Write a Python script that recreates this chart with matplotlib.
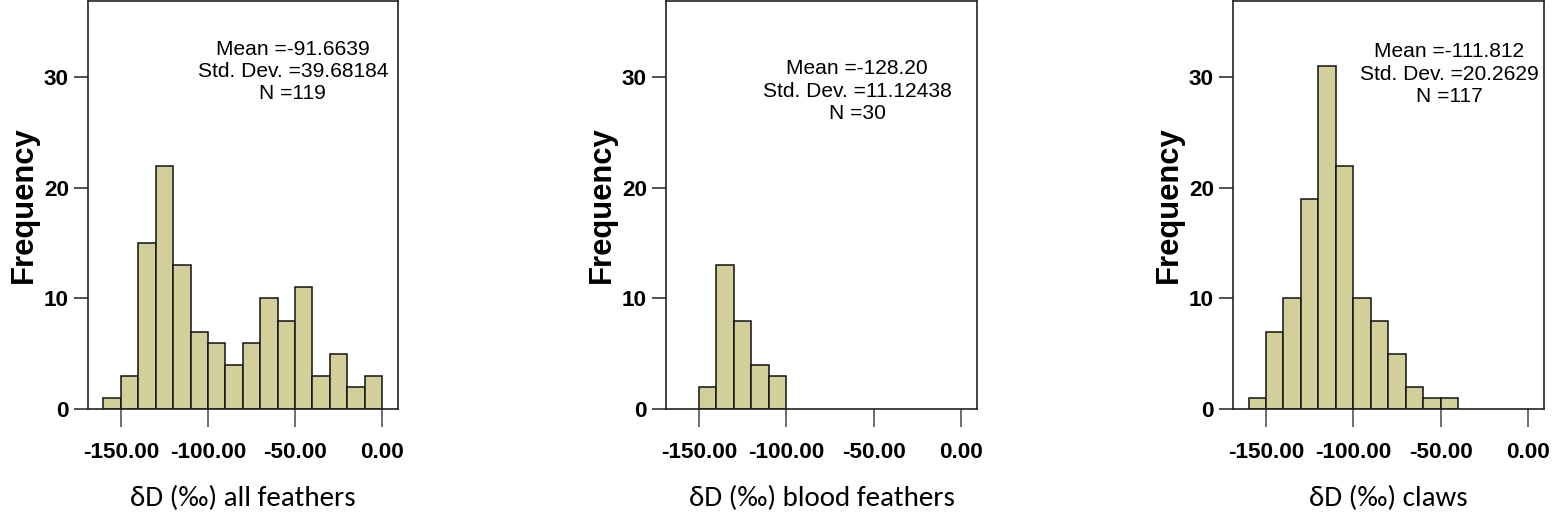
import matplotlib
matplotlib.use("Agg")
import matplotlib.pyplot as plt

# ---- data ----
bin_width = 10
bins_all = [-160, -150, -140, -130, -120, -110, -100, -90, -80, -70, -60, -50, -40, -30, -20, -10]
counts_all = [1, 3, 15, 22, 13, 7, 6, 4, 6, 10, 8, 11, 3, 5, 2, 3]

bins_blood = [-150, -140, -130, -120, -110]
counts_blood = [2, 13, 8, 4, 3]

bins_claws = [-160, -150, -140, -130, -120, -110, -100, -90, -80, -70, -60, -50]
counts_claws = [1, 7, 10, 19, 31, 22, 10, 8, 5, 2, 1, 1]

xticks = [-150, -100, -50, 0]
xtick_labels = ["-150.00", "-100.00", "-50.00", "0.00"]
yticks = [0, 10, 20, 30]
ytick_labels = ["0", "10", "20", "30"]

xlabels = ["\u03b4D (\u2030) all feathers", "\u03b4D (\u2030) blood feathers", "\u03b4D (\u2030) claws"]
stats = ["Mean =-91.6639\nStd. Dev. =39.68184\nN =119",
         "Mean =-128.20\nStd. Dev. =11.12438\nN =30",
         "Mean =-111.812\nStd. Dev. =20.2629\nN =117"]

# ---- layout ----
W, H = 1556, 521
fig = plt.figure(figsize=(W / 100, H / 100), dpi=100)

def px(v):
    return v * 72 / 100.0

arial = ["Liberation Sans", "DejaVu Sans"]
label_font = ["Carlito", "Lato", "DejaVu Sans"]
bar_color = "#D3CF9A"

panels = [
    (88, 398, bins_all, counts_all, (0.661, 0.827)),
    (666, 977, bins_blood, counts_blood, (0.615, 0.779)),
    (1233, 1544, bins_claws, counts_claws, (0.695, 0.821)),
]
top_px, bottom_px = 1, 409

for i, (l, r, b, c, spos) in enumerate(panels):
    ax = fig.add_axes([l / W, 1 - bottom_px / H, (r - l) / W, (bottom_px - top_px) / H])
    ax.bar(b, c, width=bin_width, align="edge", color=bar_color,
           edgecolor="#111111", linewidth=1.1, zorder=2)
    ax.set_xlim(-168.9, 9.2)
    ax.set_ylim(0, 36.9)
    for s in ax.spines.values():
        s.set_color("#222222")
        s.set_linewidth(1.2)
    ax.set_xticks(xticks)
    ax.set_xticklabels(xtick_labels)
    ax.set_yticks(yticks)
    ax.set_yticklabels(ytick_labels)
    ax.tick_params(axis="x", direction="out", length=px(18), width=1.2, color="#555555",
                   pad=px(15), labelsize=px(22.5))
    ax.tick_params(axis="y", direction="out", length=px(14), width=1.2, color="#333333",
                   pad=px(5), labelsize=px(22.5))
    for t in ax.get_xticklabels() + ax.get_yticklabels():
        t.set_fontfamily(arial)
        t.set_fontweight("bold")
    # y label
    fig.text((l - 64) / W, 1 - 205 / H, "Frequency", rotation=90, ha="center", va="center",
             fontsize=px(31), fontweight="bold", family=arial)
    # x label
    fig.text((l + r) / 2 / W, 1 - 498 / H, xlabels[i], ha="center", va="center",
             fontsize=px(29), family=label_font)
    # stats
    ax.text(spos[0], spos[1], stats[i], transform=ax.transAxes, ha="center", va="center",
            multialignment="center", fontsize=px(21), family=arial, linespacing=1.22)

fig.savefig("out.png", dpi=100)
